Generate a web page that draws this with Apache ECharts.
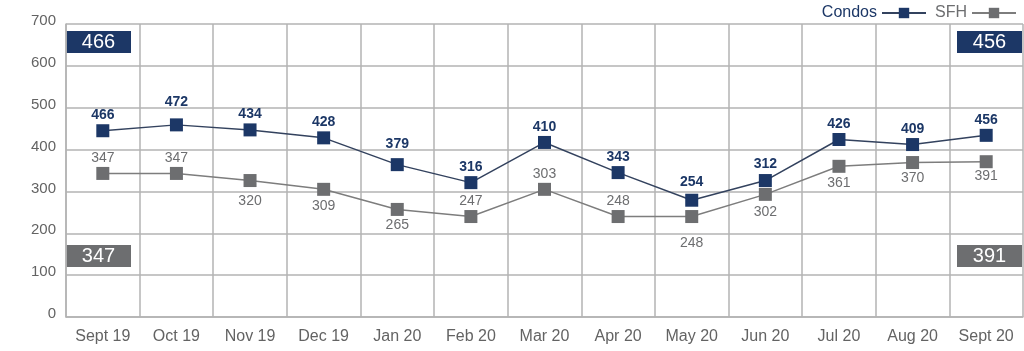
<!DOCTYPE html>
<html>
<head>
<meta charset="utf-8">
<script src="https://cdn.jsdelivr.net/npm/echarts@6/dist/echarts.min.js"></script>
<style>
  html, body { margin: 0; padding: 0; background: #fff; }
  #chart { width: 1024px; height: 351px; }
</style>
</head>
<body>
<div id="chart"></div>
<script>
// Months on the x axis
const months = ['Sept 19', 'Oct 19', 'Nov 19', 'Dec 19', 'Jan 20', 'Feb 20', 'Mar 20',
  'Apr 20', 'May 20', 'Jun 20', 'Jul 20', 'Aug 20', 'Sept 20'];
// Where the points sit on the chart
const condosPlotted = [445, 459, 447, 428, 364, 321, 417, 345, 279, 326, 424, 412, 434];
const sfhPlotted = [343, 343, 326, 305, 257, 240, 305, 240, 240, 293, 360, 369, 371];
// Numbers printed next to each point
const condosLabels = [466, 472, 434, 428, 379, 316, 410, 343, 254, 312, 426, 409, 456];
const sfhLabels = [347, 347, 320, 309, 265, 247, 303, 248, 248, 302, 361, 370, 391];
// Y axis ticks
const yTicks = [0, 100, 200, 300, 400, 500, 600, 700];

const NAVY = '#1c3766';
const GREY = '#6d6e70';
const GRID = '#b3b3b3';
const AXIS_TEXT = '#636363';
const FONT = '"Liberation Sans", Arial, sans-serif';

const chart = echarts.init(document.getElementById('chart'));

// label placement for each point (above / below and extra gap)
const condosGap = [2, 9, 2, 2, 7, 2, 2, 2, 5, 3, 2, 2, 2];
const sfhPos = ['top', 'top', 'bottom', 'bottom', 'bottom', 'top', 'top', 'top',
  'bottom', 'bottom', 'bottom', 'bottom', 'bottom'];
const sfhGap = [2, 2, 7, 3, 2, 2, 2, 2, 13, 4, 3, 2, 1];

const condosData = condosPlotted.map((v, i) => ({
  value: v,
  label: { distance: condosGap[i] },
}));
const sfhData = sfhPlotted.map((v, i) => ({
  value: v,
  label: { position: sfhPos[i], distance: sfhGap[i] },
}));

// value boxes at both ends of the chart
const box = (x, y, color, text) => ({
  type: 'group',
  left: x,
  top: y,
  children: [
    { type: 'rect', shape: { x: 0, y: 0, width: 65, height: 22 }, style: { fill: color } },
    {
      type: 'text',
      style: {
        x: 32.5, y: 11.5, text: String(text), fill: '#fff',
        font: '20px ' + FONT, textAlign: 'center', textVerticalAlign: 'middle',
      },
    },
  ],
});

const last = months.length - 1;

chart.setOption({
  animation: false,
  textStyle: { fontFamily: FONT },
  grid: { left: 66, right: 1, top: 24, bottom: 34 },
  legend: {
    right: 2,
    top: 0,
    align: 'right',
    itemWidth: 44,
    itemHeight: 13,
    itemGap: 8,
    textStyle: { fontSize: 16, fontFamily: FONT },
    data: [
      { name: 'Condos', textStyle: { color: NAVY } },
      { name: 'SFH', textStyle: { color: GREY } },
    ],
  },
  xAxis: {
    type: 'category',
    data: months,
    boundaryGap: true,
    axisLine: { lineStyle: { color: GRID, width: 1.5 } },
    axisTick: { show: false },
    splitLine: { show: true, lineStyle: { color: GRID, width: 1.5 } },
    axisLabel: { color: AXIS_TEXT, fontSize: 16, margin: 12, fontFamily: FONT },
  },
  yAxis: {
    type: 'value',
    min: yTicks[0],
    max: yTicks[yTicks.length - 1],
    interval: yTicks[1] - yTicks[0],
    axisLine: { show: true, lineStyle: { color: GRID, width: 1.5 } },
    axisTick: { show: false },
    splitLine: { lineStyle: { color: GRID, width: 1.5 } },
    axisLabel: {
      color: AXIS_TEXT, fontSize: 15, margin: 10, fontFamily: FONT,
      verticalAlign: 'bottom', lineHeight: 6,
    },
  },
  series: [
    {
      name: 'Condos',
      type: 'line',
      data: condosData,
      symbol: 'rect',
      symbolSize: 13,
      itemStyle: { color: NAVY },
      lineStyle: { color: '#33425e', width: 1.5 },
      label: {
        show: true,
        position: 'top',
        color: NAVY,
        fontWeight: 'bold',
        fontSize: 14,
        fontFamily: FONT,
        formatter: (p) => condosLabels[p.dataIndex],
      },
      z: 3,
    },
    {
      name: 'SFH',
      type: 'line',
      data: sfhData,
      symbol: 'rect',
      symbolSize: 13,
      itemStyle: { color: GREY },
      lineStyle: { color: '#7d7d7d', width: 1.5 },
      label: {
        show: true,
        position: 'top',
        color: GREY,
        fontSize: 14,
        fontFamily: FONT,
        formatter: (p) => sfhLabels[p.dataIndex],
      },
      z: 2,
    },
  ],
  graphic: [
    box(66, 31, NAVY, condosLabels[0]),
    box(957, 31, NAVY, condosLabels[last]),
    box(66, 245, GREY, sfhLabels[0]),
    box(957, 245, GREY, sfhLabels[last]),
  ],
});

window.addEventListener('resize', () => chart.resize());
</script>
</body>
</html>
